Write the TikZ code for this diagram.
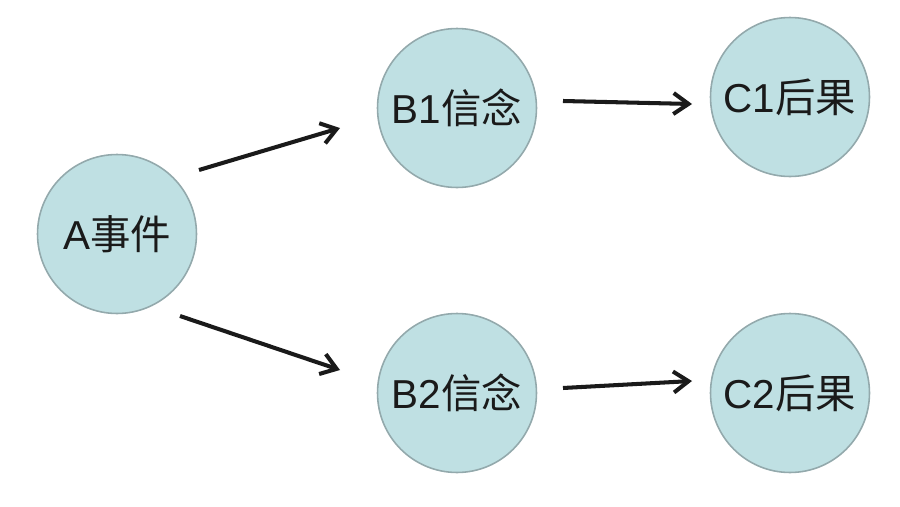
\documentclass[tikz,border=0pt]{standalone}
\usepackage{fontspec}
\setmainfont{Liberation Sans}
\newfontfamily\cjk{Noto Sans CJK SC}
\usetikzlibrary{arrows.meta, calc}
\definecolor{bubble}{HTML}{BFE0E3}
\definecolor{rim}{HTML}{93A9AC}
\definecolor{ink}{HTML}{1A1A1A}

\begin{document}
\begin{tikzpicture}[
    x=0.02cm, y=-0.02cm,
    arr/.style={-{Straight Barb[length=0.3cm, width=0.42cm]}, line width=2.3pt, ink},
    % Circle node
    bub/.style={circle, draw=rim, line width=0.9pt, fill=bubble,
                minimum size=3.18cm, inner sep=0pt, text=ink,
                font=\fontsize{23}{26}\selectfont}
]
\useasboundingbox (0,0) rectangle (900,507);

% ========== Nodes ==========
\node[bub] (a)  at (117,234) {A{\cjk 事件}};
\node[bub] (b1) at (457,108) {B1{\cjk 信念}};
\node[bub] (b2) at (457,393) {B2{\cjk 信念}};
\node[bub] (c1) at (790,97)  {C1{\cjk 后果}};
\node[bub] (c2) at (790,393) {C2{\cjk 后果}};

% ========== Arrows ==========
\draw[arr] ($(a.center) + (82,-64)$) -- ($(b1.center) + (-117,20)$);
\draw[arr] ($(a.center) + (63,82)$) -- ($(b2.center) + (-117,-23)$);
\draw[arr] ($(b1.center) + (106,-7)$) -- ($(c1.center) + (-98,7)$);
\draw[arr] ($(b2.center) + (106,-5)$) -- ($(c2.center) + (-98,-12)$);

\end{tikzpicture}
\end{document}
